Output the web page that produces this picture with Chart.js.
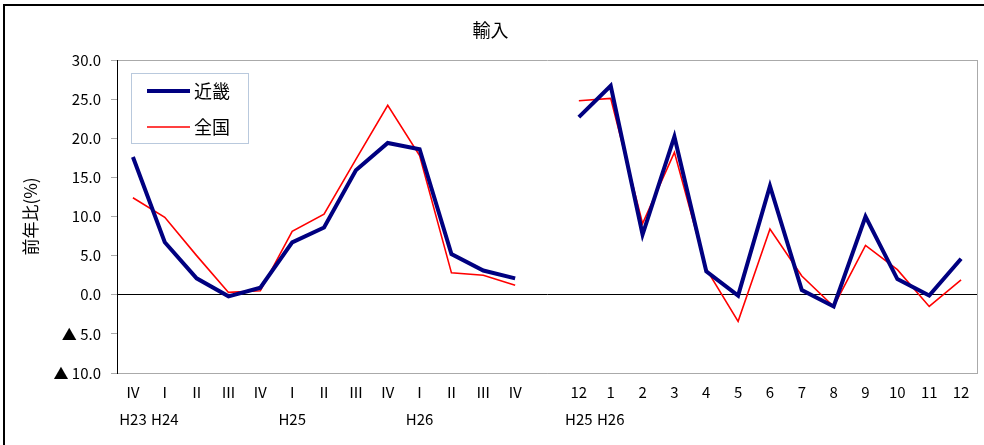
<!DOCTYPE html>
<html>
<head>
<meta charset="utf-8">
<script src="https://cdn.jsdelivr.net/npm/chart.js@4"></script>
<style>
  html, body { margin: 0; padding: 0; background: #fff; }
  #wrap { width: 984px; height: 445px; }
</style>
</head>
<body>
<div id="wrap"><canvas id="importChart" width="984" height="445"></canvas></div>
<script>
// quarters H23 IV .. H26 IV, one empty slot, then months H25/12 .. H26/12
const periods = ['Ⅳ', 'Ⅰ', 'Ⅱ', 'Ⅲ', 'Ⅳ', 'Ⅰ', 'Ⅱ', 'Ⅲ', 'Ⅳ', 'Ⅰ', 'Ⅱ', 'Ⅲ', 'Ⅳ', '',
  '12', '1', '2', '3', '4', '5', '6', '7', '8', '9', '10', '11', '12']
const eras = ['H23', 'H24', '', '', '', 'H25', '', '', '', 'H26', '', '', '', '',
  'H25', 'H26', '', '', '', '', '', '', '', '', '', '', '']

const kinki = [17.6, 6.7, 2.1, -0.2, 0.9, 6.7, 8.6, 15.9, 19.4, 18.6, 5.2, 3.1, 2.1, null,
  22.7, 26.7, 7.7, 20.2, 3.0, -0.1, 13.9, 0.6, -1.5, 10.0, 2.0, -0.1, 4.6]
const zenkoku = [12.4, 9.9, 5.0, 0.3, 0.5, 8.1, 10.3, 17.3, 24.2, 17.8, 2.8, 2.5, 1.2, null,
  24.8, 25.1, 9.1, 18.2, 3.3, -3.4, 8.4, 2.4, -1.5, 6.3, 3.2, -1.5, 1.9]

const yMin = -10
const yMax = 30
const yStep = 5

const FONT = "'Noto Sans CJK JP', 'Noto Sans', sans-serif"

const frame = {
  id: 'frame',
  beforeDraw(chart) {
    const { ctx, width, height } = chart
    ctx.save()
    ctx.fillStyle = '#fff'
    ctx.fillRect(0, 0, width, height)
    ctx.strokeStyle = '#000'
    ctx.lineWidth = 2
    ctx.beginPath()
    ctx.moveTo(4, height)
    ctx.lineTo(4, 5)
    ctx.lineTo(width, 5)
    ctx.stroke()
    ctx.restore()
  },
  afterDraw(chart) {
    const { ctx, chartArea: a } = chart
    ctx.save()
    ctx.strokeStyle = '#aaa'
    ctx.lineWidth = 1
    ctx.beginPath()
    ctx.moveTo(a.right + 0.5, a.top)
    ctx.lineTo(a.right + 0.5, a.bottom)
    ctx.stroke()

    // legend box inside the plot
    const bx = a.left + 14, by = a.top + 13, bw = 117, bh = 70
    ctx.fillStyle = '#fff'
    ctx.fillRect(bx, by, bw, bh)
    ctx.strokeStyle = '#b9c9dd'
    ctx.strokeRect(bx + 0.5, by + 0.5, bw, bh)
    ctx.font = '18px ' + FONT
    ctx.textBaseline = 'middle'
    chart.data.datasets.forEach((ds, i) => {
      const y = by + 18 + i * 36
      ctx.strokeStyle = ds.borderColor
      ctx.lineWidth = ds.borderWidth
      ctx.beginPath()
      ctx.moveTo(bx + 16, y)
      ctx.lineTo(bx + 59, y)
      ctx.stroke()
      ctx.fillStyle = '#000'
      ctx.fillText(ds.label, bx + 63, y)
    })
    ctx.restore()
  }
}

new Chart(document.getElementById('importChart'), {
  type: 'line',
  data: {
    labels: periods.map((p, i) => [p, eras[i]]),
    datasets: [
      {
        label: '近畿',
        data: kinki,
        borderColor: '#000080',
        borderWidth: 4,
        pointRadius: 0,
        tension: 0,
        spanGaps: false
      },
      {
        label: '全国',
        data: zenkoku,
        borderColor: '#ff0000',
        borderWidth: 1.6,
        pointRadius: 0,
        tension: 0,
        spanGaps: false
      }
    ]
  },
  options: {
    responsive: false,
    animation: false,
    layout: { padding: { left: 4, right: 7, top: 0, bottom: 0 } },
    plugins: {
      legend: { display: false },
      tooltip: { enabled: false },
      title: {
        display: true,
        text: '輸入',
        color: '#000',
        font: { family: FONT, size: 18, weight: 'normal', lineHeight: 1.2 },
        padding: { top: 19, bottom: 19.4 }
      }
    },
    scales: {
      x: {
        offset: true,
        grid: { display: false, drawTicks: false },
        border: { color: '#aaa' },
        ticks: {
          autoSkip: false,
          maxRotation: 0,
          minRotation: 0,
          padding: 6,
          color: '#000',
          font: { family: FONT, size: 15, lineHeight: 1.8 }
        },
        afterFit(scale) { scale.height = 72 }
      },
      y: {
        min: yMin,
        max: yMax,
        ticks: {
          stepSize: yStep,
          padding: 10,
          color: '#000',
          font: { family: FONT, size: 15 },
          callback: v => (v < 0 ? '▲ ' + Math.abs(v).toFixed(1) : v.toFixed(1))
        },
        grid: {
          tickLength: 6,
          tickColor: '#aaa',
          color: c => (c.tick.value === 0 ? '#000' : (c.tick.value === yMax || c.tick.value === yMin ? '#aaa' : 'rgba(0,0,0,0)'))
        },
        border: { color: '#000', width: 1 },
        title: {
          display: true,
          text: '前年比(%)',
          color: '#000',
          font: { family: FONT, size: 17, lineHeight: 1.2 },
          padding: { top: 16, bottom: 0 }
        },
        afterFit(scale) { scale.width = 113 }
      }
    }
  },
  plugins: [frame]
})
</script>
</body>
</html>
